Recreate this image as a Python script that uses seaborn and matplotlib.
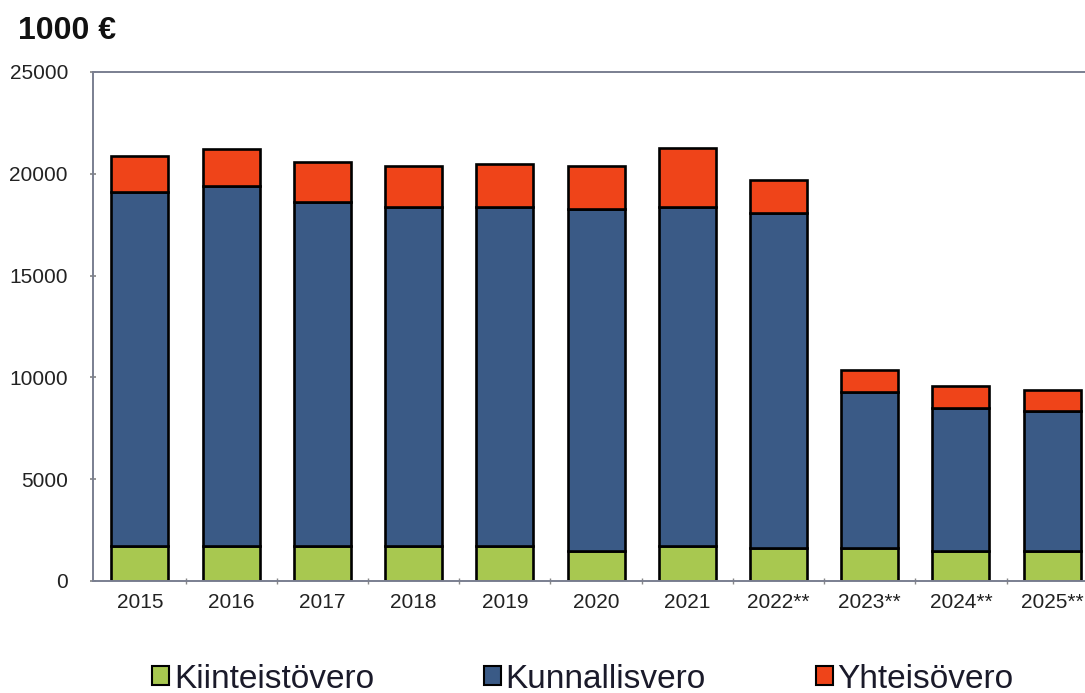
import matplotlib
matplotlib.use("Agg")
import matplotlib.pyplot as plt
import seaborn as sns
import numpy as np
from matplotlib.patches import Patch
from matplotlib.ticker import MultipleLocator, FixedLocator

years = ["2015", "2016", "2017", "2018", "2019", "2020", "2021",
         "2022**", "2023**", "2024**", "2025**"]
kiinteisto = [1720, 1720, 1720, 1720, 1720, 1470, 1720, 1600, 1600, 1490, 1490]
kunnallis_top = [19110, 19400, 18600, 18380, 18380, 18270, 18380, 18090, 9300, 8480, 8360]
total = [20870, 21200, 20600, 20400, 20480, 20380, 21280, 19700, 10360, 9590, 9380]

kunnallis = [b - g for b, g in zip(kunnallis_top, kiinteisto)]
yhteiso = [t - b for t, b in zip(total, kunnallis_top)]

labels = ["Kiinteistövero", "Kunnallisvero", "Yhteisövero"]
colors = ["#a8c850", "#3a5a86", "#ef4419"]

sns.set_theme(style="white")
plt.rcParams["font.family"] = ["Liberation Sans", "DejaVu Sans"]

fig = plt.figure(figsize=(10.85, 6.93), dpi=100)
ax = fig.add_axes([93/1085, (693-581)/693, (1085-93)/1085, (581-72)/693])

bottoms = np.zeros(len(years))
for vals, col in zip([kiinteisto, kunnallis, yhteiso], colors):
    sns.barplot(x=years, y=vals, bottom=bottoms, color=col, ax=ax,
                width=0.625, edgecolor="black", linewidth=1.9,
                saturation=1, errorbar=None)
    bottoms = bottoms + np.array(vals)

ax.set_xlim(-0.515, 10.36)
ax.set_ylim(0, 25000)
ax.yaxis.set_major_locator(MultipleLocator(5000))
ax.set_xticks(range(len(years)))
ax.set_xticklabels(years)
ax.xaxis.set_minor_locator(FixedLocator(np.arange(0.5, 10.5, 1)))
ax.tick_params(axis="x", which="major", length=0, labelsize=15, pad=9, colors="#222222")
ax.tick_params(axis="x", which="minor", bottom=True, length=4, direction="inout",
               color="#888888", width=1)
ax.tick_params(axis="y", left=True, length=4, direction="inout",
               labelsize=15, pad=16, labelcolor="#222222", color="#888888")

for s in ["left", "top", "bottom"]:
    ax.spines[s].set_visible(True)
    ax.spines[s].set_color("#7a7f90")
    ax.spines[s].set_linewidth(1.4)
ax.spines["right"].set_visible(False)
ax.set_xlabel("")
ax.set_ylabel("")

fig.text(18/1085, 1 - 31/693, "1000 €", fontsize=23, fontweight="bold",
         va="center", ha="left", color="#111111")

handles = [Patch(facecolor=c, edgecolor="black", linewidth=1.5) for c in colors]
leg = fig.legend(handles, labels, loc="center", bbox_to_anchor=(583/1085, 1 - 679/693),
                 ncol=3, frameon=False, handlelength=0.5, handleheight=0.5,
                 handletextpad=0.15, columnspacing=3.3,
                 prop={"family": ["Liberation Sans", "DejaVu Sans"], "size": 24})
for t in leg.get_texts():
    t.set_color("#1a1a2a")

fig.savefig("out.png", dpi=100)
